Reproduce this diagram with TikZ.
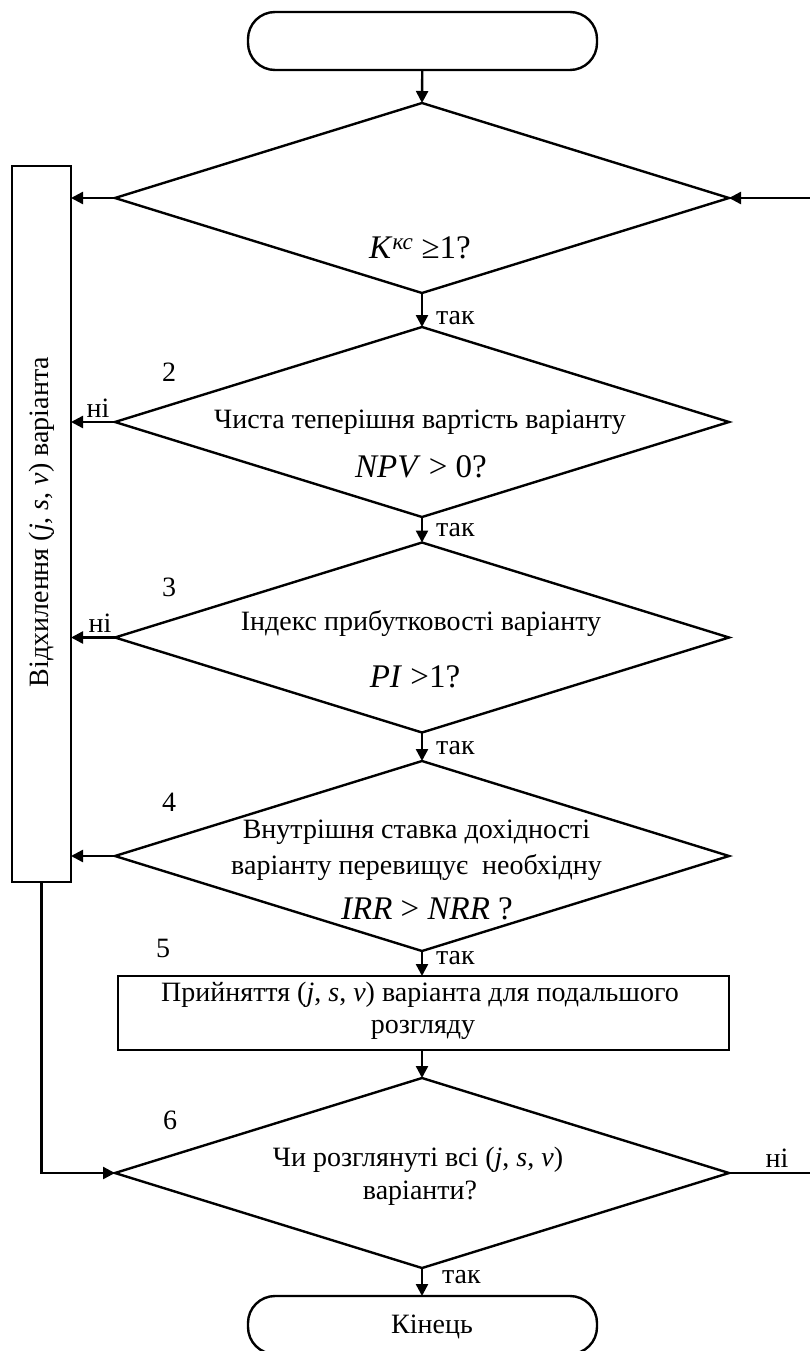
\documentclass[tikz,border=0pt]{standalone}
\usepackage{fontspec}
\setmainfont{Liberation Serif}
\usetikzlibrary{shapes.geometric,arrows.meta}
\newcommand{\fml}{\fontsize{33}{38}\selectfont}
\begin{document}
\begin{tikzpicture}[x=1pt,y=-1pt,
  every node/.style={font=\fontsize{28}{32}\selectfont, inner sep=0pt, outer sep=0pt},
  dia/.style={draw, diamond, line width=2.4pt, minimum width=614pt, minimum height=190pt},
  term/.style={draw, rectangle, rounded corners=27pt, line width=2.4pt, minimum width=349pt, minimum height=58pt},
  proc/.style={draw, rectangle, line width=2.4pt},
  arr/.style={line width=2.4pt, -{Triangle[length=12pt,width=12pt]}},
  ln/.style={line width=2.4pt},
  lbl/.style={anchor=west}]
\useasboundingbox (0,0) rectangle (810,1351);
% blocks
\node[term] (start) at (422.5,41) {};
\node[dia] (d1) at (422,198) {};
\node[dia] (d2) at (422,422) {};
\node[dia] (d3) at (422,637.5) {};
\node[dia] (d4) at (422,856) {};
\node[proc, minimum width=611pt, minimum height=74pt] (p5) at (423.5,1013) {};
\node[dia] (d6) at (422,1173) {};
\node[term] (end) at (422.5,1325) {};
\node (endt) at (432,1327) {Кінець};
\node[proc, minimum width=59pt, minimum height=716pt] (rej) at (41.5,524) {};
\node[rotate=90] (rejt) at (42,522) {Відхилення (\textit{j}, \textit{s}, \textit{v}) варіанта};
% texts
\node (t1) at (420,248) {\fml\textit{K}\textsuperscript{\textit{кс}} ≥1?};
\node (t2a) at (420,422) {Чиста теперішня вартість варіанту};
\node (t2b) at (421,467) {\fml\textit{NPV} > 0?};
\node (t3a) at (421,623) {Індекс прибутковості варіанту};
\node (t3b) at (415,677) {\fml\textit{PI} >1?};
\node (t4a) at (416.5,832) {Внутрішня ставка дохідності};
\node (t4b) at (416.5,867) {варіанту перевищує \ необхідну};
\node (t4c) at (427,909) {\fml\textit{IRR} > \textit{NRR} ?};
\node (t5a) at (420,995) {Прийняття (\textit{j}, \textit{s}, \textit{v}) варіанта для подальшого};
\node (t5b) at (423,1030) {розгляду};
\node (t6a) at (418,1160) {Чи розглянуті всі (\textit{j}, \textit{s}, \textit{v})};
\node (t6b) at (420,1193) {варіанти?};
% numbers
\node (n2) at (169,372) {2};
\node (n3) at (169,587) {3};
\node (n4) at (169,802) {4};
\node (n5) at (163,948) {5};
\node (n6) at (170,1120) {6};
% yes/no labels
\node[lbl] (y1) at (436,318) {так};
\node[lbl] (y2) at (436,530) {так};
\node[lbl] (y3) at (436,748) {так};
\node[lbl] (y4) at (436,958) {так};
\node[lbl] (y6) at (442,1277) {так};
\node (no2) at (98,408) {ні};
\node (no3) at (100,623) {ні};
\node (no6) at (777,1158) {ні};
% connectors
\coordinate (rin) at (810,198);
\coordinate (rout) at (810,1173);
\draw[arr] (start) -- (d1.north);
\draw[arr] (d1.south) -- (d2.north);
\draw[arr] (d2.south) -- (d3.north);
\draw[arr] (d3.south) -- (d4.north);
\draw[arr] (d4.south) -- (p5.north -| d4.south);
\draw[arr] (p5.south -| d6.north) -- (d6.north);
\draw[arr] (d6.south) -- (end.north -| d6.south);
\draw[arr] (d1.west) -- (d1.west -| rej.east);
\draw[arr] (d2.west) -- (d2.west -| rej.east);
\draw[arr] (d3.west) -- (d3.west -| rej.east);
\draw[arr] (d4.west) -- (d4.west -| rej.east);
\draw[arr] (rin) -- (d1.east);
\draw[ln] (d6.east) -- (rout);
\draw[arr] (rej.south) |- (d6.west);
\end{tikzpicture}
\end{document}
